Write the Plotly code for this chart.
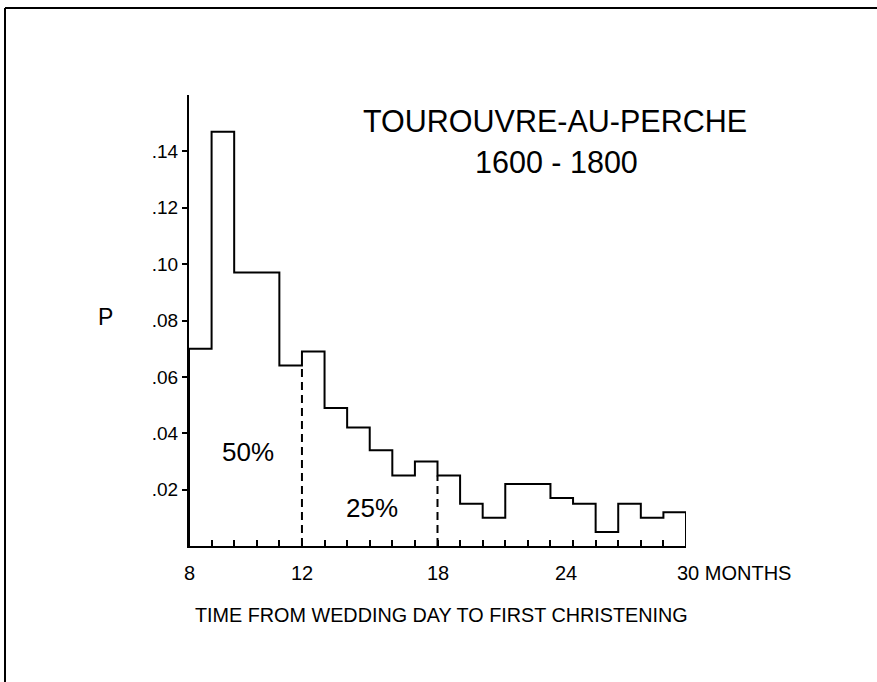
import plotly.graph_objects as go

# monthly bins from the axis start (8) to the axis end (30)
bin_edges = list(range(0, 23))
p_values = [0.070, 0.147, 0.097, 0.097, 0.064, 0.069, 0.049, 0.042, 0.034, 0.025, 0.030,
            0.025, 0.015, 0.010, 0.022, 0.022, 0.017, 0.015, 0.005, 0.015, 0.010, 0.012]

x_labels = ["8", "12", "18", "24", "30 MONTHS"]
x_label_pos = [0, 5, 11, 16.67, 22]

y_ticks = [0.02, 0.04, 0.06, 0.08, 0.10, 0.12, 0.14]
y_ticktext = [".02", ".04", ".06", ".08", ".10", ".12", ".14"]

# cumulative shares marked with dashed lines
split_pos = [5, 11]
split_text = ["50%", "25%"]

FONT = "Liberation Sans, Arial, sans-serif"
W, H = 877, 682
L, R, T, B = 189, 191, 95, 136

fig = go.Figure()

# histogram outline as a step line
step_x = [bin_edges[0]] + bin_edges[:-1] + [bin_edges[-1]]
step_y = [0] + p_values + [0]
fig.add_trace(go.Scatter(x=step_x, y=step_y, mode="lines", line_shape="hv",
                         line=dict(color="black", width=2), cliponaxis=False,
                         hoverinfo="skip", showlegend=False))

# dashed split lines, up to the top of the bin next to them
for pos in split_pos:
    top = p_values[pos - 1] if pos == 5 else p_values[pos]
    fig.add_trace(go.Scatter(x=[pos, pos], y=[0, top], mode="lines",
                             line=dict(color="black", width=2, dash="8px,5px"),
                             hoverinfo="skip", showlegend=False))

fig.update_layout(
    width=W, height=H,
    margin=dict(l=L, r=R, t=T, b=B),
    paper_bgcolor="white", plot_bgcolor="white",
    font=dict(family=FONT, color="black"),
    showlegend=False,
)

fig.update_xaxes(range=[0, 22], tickvals=bin_edges, showticklabels=False,
                 ticks="inside", ticklen=6, tickwidth=2, tickcolor="black",
                 showline=True, linecolor="black", linewidth=2,
                 showgrid=False, zeroline=False)
fig.update_yaxes(range=[0, 0.16], tickvals=y_ticks, ticktext=y_ticktext,
                 ticks="outside", ticklen=5, tickwidth=2, tickcolor="black",
                 tickfont=dict(size=19, family=FONT),
                 showline=True, linecolor="black", linewidth=2,
                 showgrid=False, zeroline=False)

# x tick labels
for txt, pos in zip(x_labels, x_label_pos):
    if txt.startswith("30"):
        fig.add_annotation(x=pos, y=0, xref="x", yref="y", text=txt, showarrow=False,
                           xanchor="left", yanchor="middle", xshift=-11, yshift=-27,
                           font=dict(size=20))
    else:
        fig.add_annotation(x=pos, y=0, xref="x", yref="y", text=txt, showarrow=False,
                           xanchor="center", yanchor="middle", yshift=-27,
                           font=dict(size=20))

fig.add_annotation(x=441, y=615, text="TIME FROM WEDDING DAY TO FIRST CHRISTENING",
                   showarrow=False, font=dict(size=19.8))
fig.add_annotation(x=105, y=317, text="P", showarrow=False, font=dict(size=23))
fig.add_annotation(x=555, y=121, text="TOUROUVRE-AU-PERCHE", showarrow=False,
                   font=dict(size=30.5))
fig.add_annotation(x=556, y=162, text="1600 - 1800", showarrow=False,
                   font=dict(size=30.5))
fig.add_annotation(x=248, y=452, text=split_text[0], showarrow=False, font=dict(size=26))
fig.add_annotation(x=372, y=508, text=split_text[1], showarrow=False, font=dict(size=26))

# convert pixel positions of free text to paper coordinates
for ann in fig.layout.annotations:
    if ann.xref is None:
        ann.xref = "paper"
        ann.yref = "paper"
        ann.x = (ann.x - L) / (W - L - R)
        ann.y = (H - B - ann.y) / (H - T - B)
        ann.xanchor = "center"
        ann.yanchor = "middle"

# page frame (top and left edges visible)
px = lambda v: (v - L) / (W - L - R)
py = lambda v: (H - B - v) / (H - T - B)
fig.add_shape(type="line", xref="paper", yref="paper", x0=px(5), y0=py(8), x1=px(900), y1=py(8),
              line=dict(color="black", width=2))
fig.add_shape(type="line", xref="paper", yref="paper", x0=px(5), y0=py(8), x1=px(5), y1=py(700),
              line=dict(color="black", width=2))

fig.write_html("out.html", config={"displayModeBar": False},
               post_script="document.body.style.margin='0';document.body.style.overflow='hidden';")
